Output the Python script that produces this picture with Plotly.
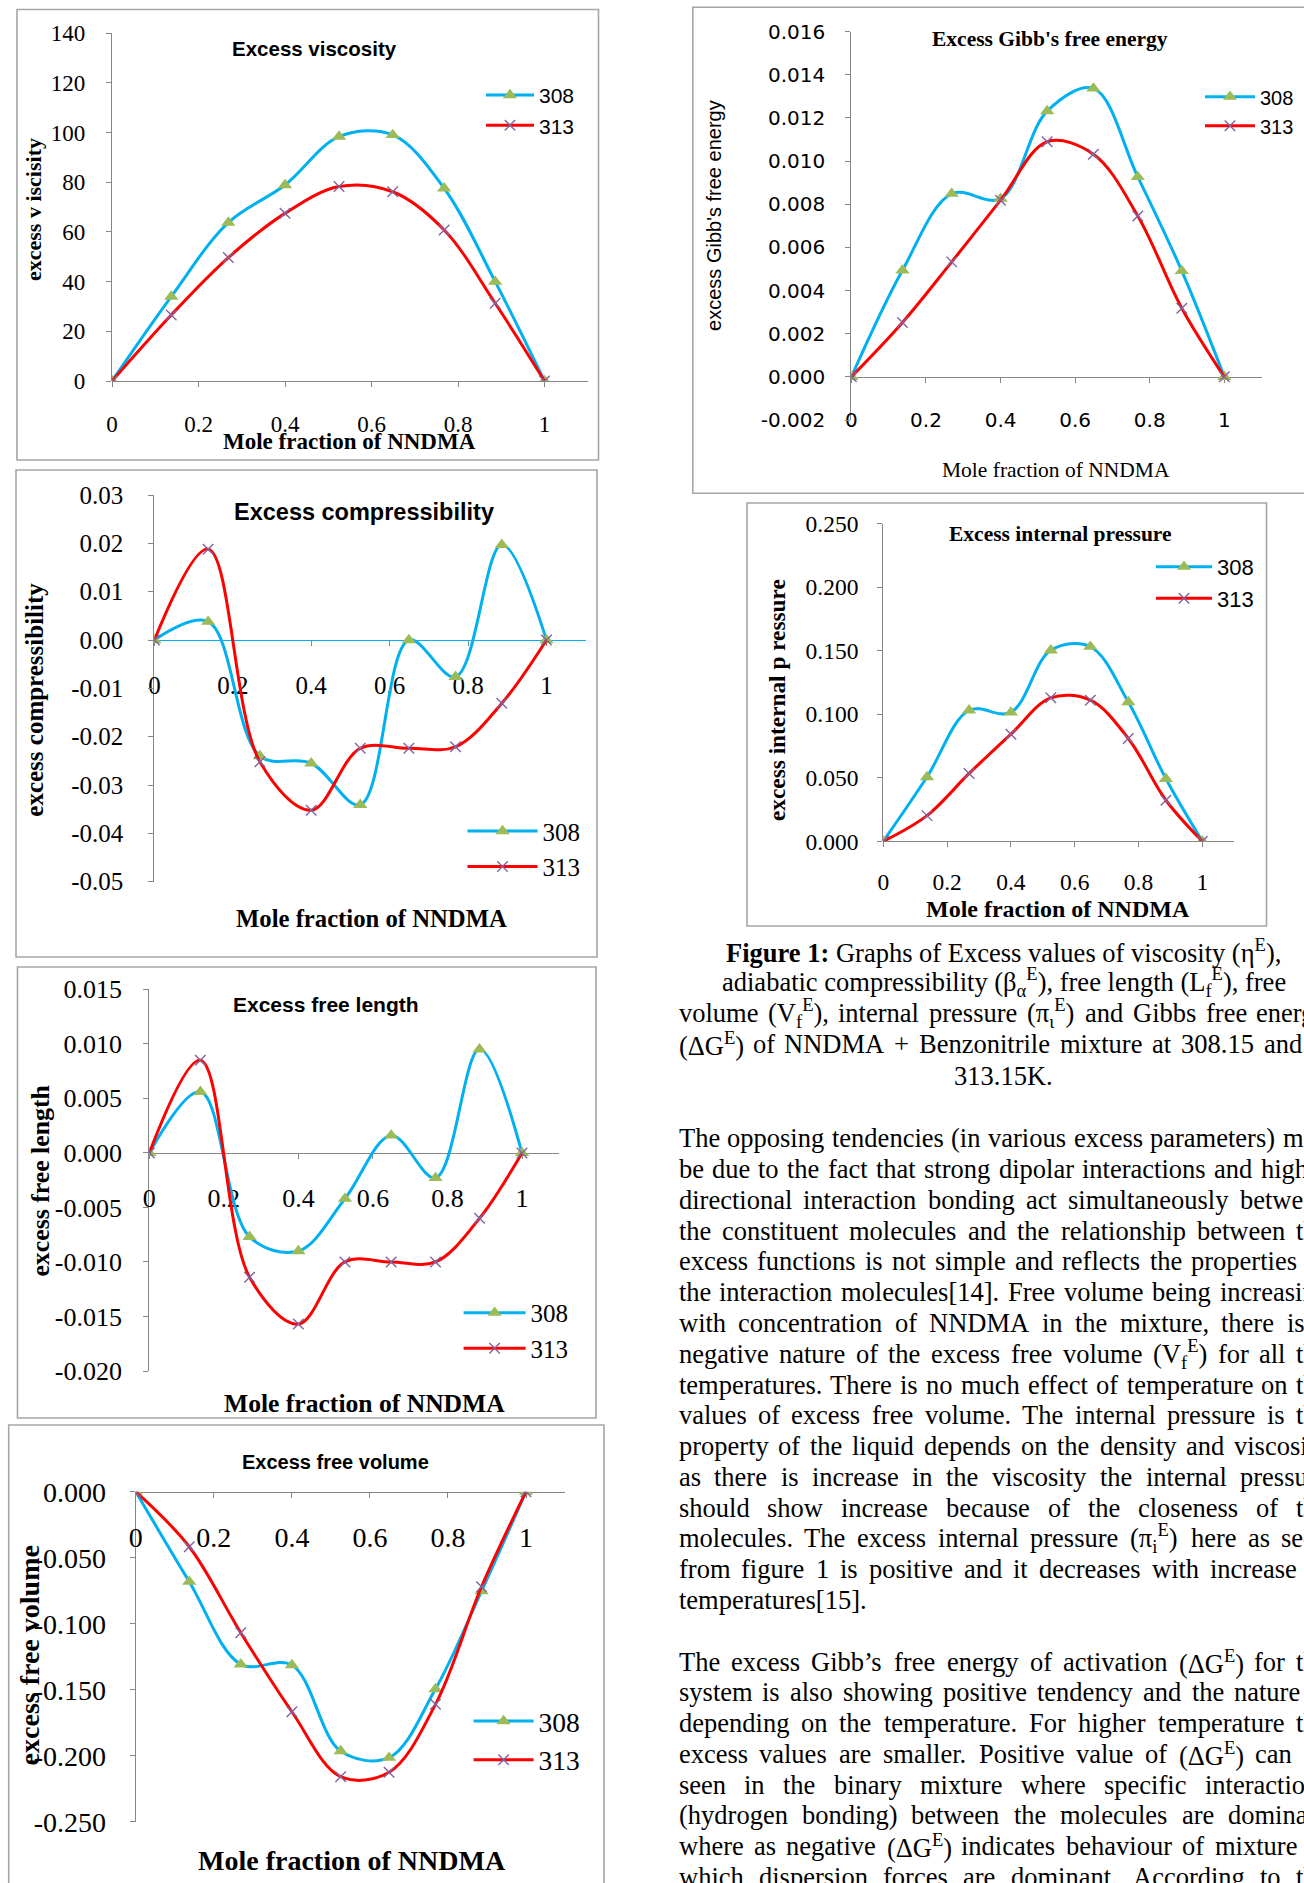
import re
import plotly.graph_objects as go

W, H = 1304, 1883

# ------------------------------------------------------------------ data
mole_fraction = [0, 0.137, 0.269, 0.400, 0.525, 0.649, 0.768, 0.886, 1.0]
series_names = ["308", "313"]

viscosity_308 = [0, 34.0, 63.8, 78.9, 98.4, 99.1, 77.6, 40.0, 0]
viscosity_313 = [0, 26.6, 49.7, 67.5, 78.3, 76.2, 60.8, 31.3, 0]

compress_308 = [0, 0.0038, -0.0240, -0.0255, -0.0341, 0.0000, -0.0076, 0.0197, 0]
compress_313 = [0, 0.0188, -0.0252, -0.0352, -0.0224, -0.0224, -0.0221, -0.0131, 0]

freelen_308 = [0, 0.0056, -0.0077, -0.0090, -0.0042, 0.0016, -0.0023, 0.0095, 0]
freelen_313 = [0, 0.0085, -0.0114, -0.0157, -0.0100, -0.0100, -0.0100, -0.0060, 0]

freevol_308 = [0, -0.0682, -0.1308, -0.1313, -0.1965, -0.2015, -0.1495, -0.0753, 0]
freevol_313 = [0, -0.0417, -0.1068, -0.1667, -0.2159, -0.2126, -0.1611, -0.0720, 0]

gibbs_308 = [0, 0.00494, 0.00849, 0.00826, 0.01232, 0.01337, 0.00927, 0.00491, 0]
gibbs_313 = [0, 0.00252, 0.00533, 0.00819, 0.01090, 0.01032, 0.00746, 0.00318, 0]

intpress_308 = [0, 0.0506, 0.1031, 0.1014, 0.1503, 0.1531, 0.1096, 0.0492, 0]
intpress_313 = [0, 0.0202, 0.0534, 0.0843, 0.1129, 0.1110, 0.0809, 0.0323, 0]

x_tick_vals = [0, 0.2, 0.4, 0.6, 0.8, 1.0]
x_tick_text = ["0", "0.2", "0.4", "0.6", "0.8", "1"]

visc_tick_vals = [0, 20, 40, 60, 80, 100, 120, 140]
visc_tick_text = ["0", "20", "40", "60", "80", "100", "120", "140"]
compress_tick_vals = [-0.05, -0.04, -0.03, -0.02, -0.01, 0.0, 0.01, 0.02, 0.03]
compress_tick_text = ["-0.05", "-0.04", "-0.03", "-0.02", "-0.01", "0.00", "0.01", "0.02", "0.03"]
freelen_tick_vals = [-0.020, -0.015, -0.010, -0.005, 0.0, 0.005, 0.010, 0.015]
freelen_tick_text = ["-0.020", "-0.015", "-0.010", "-0.005", "0.000", "0.005", "0.010", "0.015"]
freevol_tick_vals = [-0.25, -0.20, -0.15, -0.10, -0.05, 0.0]
freevol_tick_text = ["-0.250", "-0.200", "-0.150", "-0.100", "-0.050", "0.000"]
gibbs_tick_vals = [-0.002, 0.0, 0.002, 0.004, 0.006, 0.008, 0.010, 0.012, 0.014, 0.016]
gibbs_tick_text = ["-0.002", "0.000", "0.002", "0.004", "0.006", "0.008", "0.010", "0.012", "0.014", "0.016"]
intpress_tick_vals = [0.0, 0.05, 0.10, 0.15, 0.20, 0.25]
intpress_tick_text = ["0.000", "0.050", "0.100", "0.150", "0.200", "0.250"]

chart_titles = ["Excess viscosity", "Excess compressibility", "Excess free length",
                "Excess free volume", "Excess Gibb's free energy", "Excess internal pressure"]
x_titles = ["Mole fraction of NNDMA"] * 6
y_titles = ["excess v iscisity", "excess compressibility", "excess free length",
            "excess free volume", "excess Gibb's free energy", "excess internal p ressure"]

caption_lines = [
    "<b>Figure 1:</b> Graphs of Excess values of viscosity (η<sup>E</sup>),",
    "adiabatic compressibility (β<sub>α</sub><sup>E</sup>), free length (L<sub>f</sub><sup>E</sup>), free",
    "volume (V<sub>f</sub><sup>E</sup>), internal pressure (π<sub>ι</sub><sup>E</sup>) and Gibbs free energy",
    "(ΔG<sup>E</sup>) of NNDMA + Benzonitrile mixture at 308.15 and",
    "313.15K.",
]
paragraph1_lines = [
    "The opposing tendencies (in various excess parameters) may",
    "be due to the fact that strong dipolar interactions and highly",
    "directional interaction bonding act simultaneously between",
    "the constituent molecules and the relationship between the",
    "excess functions is not simple and reflects the properties of",
    "the interaction molecules[14]. Free volume being increasing",
    "with concentration of NNDMA in the mixture, there is a",
    "negative nature of the excess free volume (V<sub>f</sub><sup>E</sup>) for all the",
    "temperatures. There is no much effect of temperature on the",
    "values of excess free volume. The internal pressure is the",
    "property of the liquid depends on the density and viscosity",
    "as there is increase in the viscosity the internal pressure",
    "should show increase because of the closeness of the",
    "molecules. The excess internal pressure (π<sub>i</sub><sup>E</sup>) here as seen",
    "from figure 1 is positive and it decreases with increase in",
    "temperatures[15].",
]
paragraph2_lines = [
    "The excess Gibb’s free energy of activation (ΔG<sup>E</sup>) for the",
    "system is also showing positive tendency and the nature is",
    "depending on the temperature. For higher temperature the",
    "excess values are smaller. Positive value of (ΔG<sup>E</sup>) can be",
    "seen in the binary mixture where specific interactions",
    "(hydrogen bonding) between the molecules are dominant",
    "where as negative (ΔG<sup>E</sup>) indicates behaviour of mixture in",
    "which dispersion forces are dominant. According to the",
]

# ------------------------------------------------------------------ styles
SERIF = "Liberation Serif, Times New Roman, serif"
SANS = "Liberation Sans, Arial, sans-serif"
DEJAVU = "DejaVu Sans, sans-serif"
BLUE = "#00B0F0"
RED = "#FF0000"
GREEN = "#9BBB59"
PURPLE = "#8064A2"
AXIS_GRAY = "#868686"
FRAME_GRAY = "#A6A6A6"

series_data = [
    (viscosity_308, viscosity_313, visc_tick_vals, visc_tick_text),
    (compress_308, compress_313, compress_tick_vals, compress_tick_text),
    (freelen_308, freelen_313, freelen_tick_vals, freelen_tick_text),
    (freevol_308, freevol_313, freevol_tick_vals, freevol_tick_text),
    (gibbs_308, gibbs_313, gibbs_tick_vals, gibbs_tick_text),
    (intpress_308, intpress_313, intpress_tick_vals, intpress_tick_text),
]

# layout of each chart panel, in page pixels
panels = [
    dict(ax0=112.0, ax1=544.5, yr=(0, 140), pymin=381.0, pymax=33.3,
         tfont=SERIF, tfs=23, ygap=27.0, xoff=42.3, xcol=AXIS_GRAY,
         title=(314.8, 48.3, SANS, 20.5, "bold"), xt=(349.7, 441.7, SERIF, 23, "bold"),
         yt=(33.7, 209.3, SERIF, 22, "bold"),
         leg=dict(tx=539, cy=95.0, font=SANS, fs=21, iw=48),
         frame=(17, 9.5, 598.5, 460)),
    dict(ax0=154.4, ax1=546.5, yr=(-0.05, 0.03), pymin=881.7, pymax=495.0,
         tfont=SERIF, tfs=25, ygap=30.9, xoff=44.0, xcol=BLUE,
         title=(364.3, 511.7, SANS, 23.5, "bold"), xt=(371.0, 918.3, SERIF, 24.7, "bold"),
         yt=(33.7, 700.0, SERIF, 25, "bold"),
         leg=dict(tx=542.5, cy=831.0, font=SERIF, fs=25, iw=70),
         frame=(16, 470, 597, 957)),
    dict(ax0=149.3, ax1=522.0, yr=(-0.02, 0.015), pymin=1371.0, pymax=989.3,
         tfont=SERIF, tfs=26, ygap=26.5, xoff=43.7, xcol=AXIS_GRAY,
         title=(326.3, 1004.3, SANS, 21, "bold"), xt=(364.3, 1403.3, SERIF, 25.6, "bold"),
         yt=(39.6, 1181.0, SERIF, 25.8, "bold"),
         leg=dict(tx=530.6, cy=1312.7, font=SERIF, fs=25, iw=62),
         frame=(17.5, 967, 596, 1418)),
    dict(ax0=135.8, ax1=526.0, yr=(-0.25, 0.0), pymin=1821.7, pymax=1491.7,
         tfont=SERIF, tfs=28, ygap=28.8, xoff=43.3, xcol=AXIS_GRAY,
         title=(335.8, 1461.7, SANS, 20, "bold"), xt=(351.6, 1860.0, SERIF, 28, "bold"),
         yt=(29.7, 1655.7, SERIF, 28, "bold"),
         leg=dict(tx=538.6, cy=1721.0, font=SERIF, fs=27.5, iw=60),
         frame=(8.7, 1425, 604, 1900)),
    dict(ax0=851.4, ax1=1224.3, yr=(-0.002, 0.016), pymin=420.0, pymax=31.7,
         tfont=DEJAVU, tfs=20, ygap=27.1, xoff=44.0, xcol=AXIS_GRAY,
         title=(1050.4, 39.3, SERIF, 21.5, "bold"), xt=(1055.6, 470.0, SERIF, 21.5, "normal"),
         yt=(713.9, 215.0, SANS, 20, "normal"),
         leg=dict(tx=1260, cy=96.7, font=SANS, fs=20, iw=50),
         frame=(692.8, 7.3, 1320, 493.3)),
    dict(ax0=883.3, ax1=1202.3, yr=(0, 0.25), pymin=841.3, pymax=523.6,
         tfont=SERIF, tfs=23.5, ygap=24.7, xoff=39.3, xcol=AXIS_GRAY,
         title=(1060.0, 533.6, SERIF, 21.5, "bold"), xt=(1058.0, 909.0, SERIF, 24, "bold"),
         yt=(777.7, 700.3, SERIF, 23.3, "bold"),
         leg=dict(tx=1217, cy=566.7, font=SANS, fs=22, iw=56),
         frame=(747, 503, 1266.5, 926)),
]


def px(x):
    return x / W


def py(y):
    return 1 - y / H


fig = go.Figure()
annotations = []
shapes = []
layout = dict(width=W, height=H, margin=dict(l=0, r=0, t=0, b=0, pad=0, autoexpand=False),
              paper_bgcolor="white", plot_bgcolor="rgba(0,0,0,0)", hovermode=False)

TICKLEN = 5
for i, (p, (s308, s313, yvals, ytext)) in enumerate(zip(panels, series_data), start=1):
    sfx = "" if i == 1 else str(i)
    leg_id = "legend" + sfx
    fig.add_trace(go.Scatter(
        x=mole_fraction, y=s308, name=series_names[0], mode="lines+markers",
        xaxis="x" + sfx, yaxis="y" + sfx, legend=leg_id,
        line=dict(color=BLUE, width=3, shape="spline", smoothing=1.0),
        marker=dict(symbol="triangle-up", size=12.5, color=GREEN, line=dict(width=0))))
    fig.add_trace(go.Scatter(
        x=mole_fraction, y=s313, name=series_names[1], mode="lines+markers",
        xaxis="x" + sfx, yaxis="y" + sfx, legend=leg_id,
        line=dict(color=RED, width=3, shape="spline", smoothing=1.0),
        marker=dict(symbol="x-thin", size=10.5, color=PURPLE, line=dict(width=1.4, color=PURPLE))))

    ymin, ymax = p["yr"]
    xd0 = p["ax0"] / W
    xd1 = (p["ax0"] + 1.1 * (p["ax1"] - p["ax0"])) / W
    zero_px = p["pymin"] + (0 - ymin) / (ymax - ymin) * (p["pymax"] - p["pymin"])
    tickfont = dict(family=p["tfont"], size=p["tfs"], color="#000000")
    layout["xaxis" + sfx] = dict(
        domain=[xd0, xd1], range=[0, 1.1], anchor="free", position=py(zero_px), side="bottom",
        showline=True, linecolor=p["xcol"], linewidth=1.3, ticks="outside", ticklen=TICKLEN,
        tickwidth=1, tickcolor=AXIS_GRAY, tickvals=x_tick_vals, ticktext=x_tick_text,
        tickfont=tickfont,
        ticklabelstandoff=int(round(max(0, p["xoff"] - TICKLEN - 11.5 - 0.38 * p["tfs"]))),
        showgrid=False, zeroline=False, fixedrange=True, layer="below traces")
    layout["yaxis" + sfx] = dict(
        domain=[py(p["pymin"]), py(p["pymax"])], range=[ymin, ymax], anchor="x" + sfx,
        showline=True, linecolor=AXIS_GRAY, linewidth=1.3, ticks="outside", ticklen=TICKLEN,
        tickwidth=1, tickcolor=AXIS_GRAY, tickvals=yvals, ticktext=ytext, tickfont=tickfont,
        ticklabelstandoff=int(round(max(0, p["ygap"] - TICKLEN - 6))),
        showgrid=False, zeroline=False, fixedrange=True, layer="below traces")

    lg = p["leg"]
    item_h = lg["fs"] * 1.3 + 3
    layout[leg_id] = dict(
        x=px(lg["tx"] - lg["iw"] - 10), y=py(lg["cy"] - 5 - item_h / 2),
        xanchor="left", yanchor="top", xref="paper", yref="paper",
        bgcolor="rgba(0,0,0,0)", borderwidth=0, itemwidth=lg["iw"],
        font=dict(family=lg["font"], size=lg["fs"], color="#000000"),
        traceorder="normal", tracegroupgap=0)

    tx, ty, tf, ts, tw_ = p["title"]
    annotations.append(dict(text=chart_titles[i - 1], x=px(tx), y=py(ty), xref="paper", yref="paper",
                            xanchor="center", yanchor="middle", showarrow=False,
                            font=dict(family=tf, size=ts, color="#000000", weight=tw_)))
    tx, ty, tf, ts, tw_ = p["xt"]
    annotations.append(dict(text=x_titles[i - 1], x=px(tx), y=py(ty), xref="paper", yref="paper",
                            xanchor="center", yanchor="middle", showarrow=False,
                            font=dict(family=tf, size=ts, color="#000000", weight=tw_)))
    tx, ty, tf, ts, tw_ = p["yt"]
    annotations.append(dict(text=y_titles[i - 1], x=px(tx), y=py(ty), xref="paper", yref="paper",
                            xanchor="center", yanchor="middle", showarrow=False, textangle=-90,
                            font=dict(family=tf, size=ts, color="#000000", weight=tw_)))
    fx0, fy0, fx1, fy1 = p["frame"]
    shapes.append(dict(type="rect", xref="paper", yref="paper", x0=px(fx0), x1=px(fx1),
                       y0=py(fy1), y1=py(fy0), line=dict(color=FRAME_GRAY, width=1.6),
                       fillcolor="rgba(0,0,0,0)", layer="below"))

# ------------------------------------------------------------------ text column
TNR = {' ': 250, '(': 333, ')': 333, '[': 333, ']': 333, ',': 250, '.': 250, ':': 278, ';': 278,
       "'": 180, '’': 333, '+': 564, '-': 333,
       'A': 722, 'B': 667, 'C': 667, 'D': 722, 'E': 611, 'F': 556, 'G': 722, 'H': 722, 'I': 333,
       'J': 389, 'K': 722, 'L': 611, 'M': 889, 'N': 722, 'O': 722, 'P': 556, 'Q': 722, 'R': 667,
       'S': 556, 'T': 611, 'U': 722, 'V': 722, 'W': 944, 'X': 722, 'Y': 722, 'Z': 611,
       'a': 444, 'b': 500, 'c': 444, 'd': 500, 'e': 444, 'f': 333, 'g': 500, 'h': 500, 'i': 278,
       'j': 278, 'k': 500, 'l': 278, 'm': 778, 'n': 500, 'o': 500, 'p': 500, 'q': 500, 'r': 333,
       's': 389, 't': 278, 'u': 500, 'v': 500, 'w': 722, 'x': 500, 'y': 500, 'z': 444,
       'Δ': 612, 'π': 549, 'η': 500, 'β': 500, 'α': 553, 'ι': 278}
for d in "0123456789":
    TNR[d] = 500


def text_width(s, fs):
    w, scale = 0.0, 1.0
    for tok in re.split(r"(<[^>]+>)", s):
        if tok.startswith("<"):
            scale = 0.7 if tok in ("<sub>", "<sup>") else 1.0
            continue
        for ch in tok:
            w += TNR.get(ch, 500) * scale
    return w * fs / 1000.0


BODY_FS = 26.5
BODY_FONT = dict(family=SERIF, size=BODY_FS, color="#000000")
COL_L, COL_R = 678.5, 1328.5
LINE0, LEAD = 1138.3, 30.78


def add_line(line, ycen, justify, right=COL_R):
    words = line.split(" ")
    widths = [text_width(w, BODY_FS) for w in words]
    space = 250 * BODY_FS / 1000.0
    gap = space
    if justify and len(words) > 1:
        gap = max(space * 0.8, (right - COL_L - sum(widths)) / (len(words) - 1))
    x = COL_L
    for w, wd in zip(words, widths):
        if x < W - 2:  # words starting beyond the page edge are not visible in the reference
            annotations.append(dict(text=w, x=px(x), y=py(ycen), xref="paper", yref="paper",
                                    xanchor="left", yanchor="middle", showarrow=False,
                                    borderpad=0, borderwidth=0, font=BODY_FONT))
        x += wd + gap


caption_y = [950.5, 981.8, 1013.1, 1044.4, 1075.7]
caption_right = [None, None, COL_R, 1302.0, None]
for line, yc, rt in zip(caption_lines, caption_y, caption_right):
    if rt is not None:
        add_line(line, yc, justify=True, right=rt)
    else:
        annotations.append(dict(text=line, x=px((COL_L + COL_R) / 2), y=py(yc), xref="paper", yref="paper",
                                xanchor="center", yanchor="middle", showarrow=False,
                                borderpad=0, borderwidth=0, font=BODY_FONT))

for k, line in enumerate(paragraph1_lines):
    add_line(line, LINE0 + k * LEAD, justify=(k < len(paragraph1_lines) - 1))
start2 = len(paragraph1_lines) + 1
for k, line in enumerate(paragraph2_lines):
    add_line(line, LINE0 + (start2 + k) * LEAD, justify=True)

layout["annotations"] = annotations
layout["shapes"] = shapes
fig.update_layout(**layout)

fig.write_html("out.html", config={"displayModeBar": False},
               post_script="document.body.style.margin='0';document.body.style.overflow='hidden';")
